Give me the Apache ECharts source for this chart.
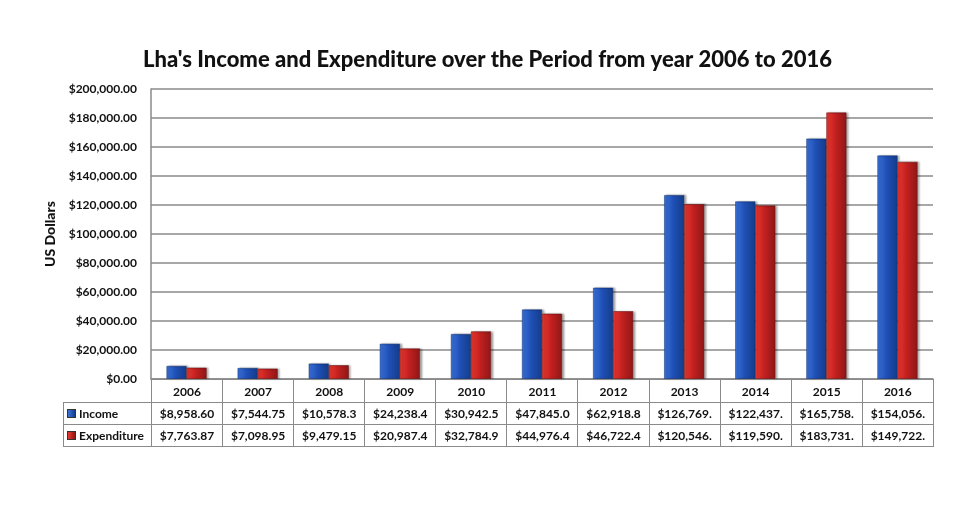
<!DOCTYPE html>
<html>
<head>
<meta charset="utf-8">
<script src="https://cdn.jsdelivr.net/npm/echarts@6/dist/echarts.min.js"></script>
<style>
  html, body { margin: 0; padding: 0; background: #fff; }
  #wrap { position: relative; width: 975px; height: 509px; }
  #chart { position: absolute; left: 0; top: 0; width: 975px; height: 509px; }
  #tbl {
    position: absolute; left: 63px; top: 379px;
    border-collapse: collapse; table-layout: fixed;
    font-family: Lato, 'Open Sans', sans-serif; font-weight: bold; font-size: 12px; color: #111;
  }
  #tbl td { border: 1.5px solid #8a8a8a; text-align: center; padding: 0; white-space: nowrap; overflow: hidden; }
  #tbl td.lab { text-align: left; padding-left: 3px; }
  #tbl td.blank { border: none; border-right: 1.5px solid #8a8a8a; }
  .key { display: inline-block; width: 7px; height: 7px; margin-right: 3px; vertical-align: 0px; border: 1px solid #333; }
</style>
</head>
<body>
<div id="wrap">
  <div id="chart"></div>
  <table id="tbl"></table>
</div>
<script>
  const years = ['2006', '2007', '2008', '2009', '2010', '2011', '2012', '2013', '2014', '2015', '2016']
  const income = [8958.60, 7544.75, 10578.30, 24238.40, 30942.50, 47845.00, 62918.80, 126769.00, 122437.00, 165758.00, 154056.00]
  const expenditure = [7763.87, 7098.95, 9479.15, 20987.40, 32784.90, 44976.40, 46722.40, 120546.00, 119590.00, 183731.00, 149722.00]
  const seriesNames = ['Income', 'Expenditure']

  const fmt = (v) => '$' + v.toLocaleString('en-US', { minimumFractionDigits: 2, maximumFractionDigits: 2 })

  const blue = new echarts.graphic.LinearGradient(0, 0, 1, 0, [
    { offset: 0, color: '#3d74dc' },
    { offset: 0.45, color: '#1f50b6' },
    { offset: 1, color: '#153c8a' },
  ])
  const red = new echarts.graphic.LinearGradient(0, 0, 1, 0, [
    { offset: 0, color: '#ea3a30' },
    { offset: 0.45, color: '#c42020' },
    { offset: 1, color: '#8e1717' },
  ])

  const chart = echarts.init(document.getElementById('chart'))
  chart.setOption({
    animation: false,
    title: {
      text: "Lha's Income and Expenditure over the Period from year 2006 to 2016",
      left: 'center',
      top: 44,
      textStyle: { fontFamily: 'Lato', fontWeight: 900, fontSize: 22, color: '#111' },
    },
    grid: { left: 151, right: 42, top: 89, bottom: 130 },
    xAxis: {
      type: 'category',
      data: years,
      axisLabel: { show: false },
      axisTick: { show: false },
      axisLine: { lineStyle: { color: '#8a8a8a', width: 1.5 } },
    },
    yAxis: {
      type: 'value',
      min: 0,
      max: 200000,
      interval: 20000,
      name: 'US Dollars',
      nameLocation: 'middle',
      nameGap: 90,
      nameTextStyle: { fontFamily: 'Lato', fontWeight: 900, fontSize: 14, color: '#111' },
      axisLine: { show: true, lineStyle: { color: '#8a8a8a', width: 1.5 } },
      axisTick: { show: false },
      splitLine: { lineStyle: { color: '#8a8a8a', width: 1.5 } },
      axisLabel: {
        formatter: fmt,
        margin: 14,
        fontFamily: 'Lato', fontWeight: 'bold', fontSize: 12, color: '#111',
      },
    },
    series: [
      {
        name: seriesNames[0], type: 'bar', data: income,
        barWidth: 20, barGap: '0%',
        itemStyle: { color: blue, borderColor: '#0f2f70', borderWidth: 0.5, shadowColor: 'rgba(0,0,0,0.35)', shadowOffsetX: 2, shadowBlur: 2 },
      },
      {
        name: seriesNames[1], type: 'bar', data: expenditure,
        barWidth: 20, barGap: '0%',
        itemStyle: { color: red, borderColor: '#6e1010', borderWidth: 0.5, shadowColor: 'rgba(0,0,0,0.35)', shadowOffsetX: 2, shadowBlur: 2 },
      },
    ],
  })

  // data table under the plot
  const colW = (975 - 151 - 42) / years.length
  const tbl = document.getElementById('tbl')
  let html = '<colgroup><col style="width:88px">' + years.map(() => `<col style="width:${colW}px">`).join('') + '</colgroup>'
  html += '<tr style="height:23px"><td class="blank"></td>' + years.map((y) => `<td>${y}</td>`).join('') + '</tr>'
  const rows = [
    [seriesNames[0], income, 'linear-gradient(90deg,#3d74dc,#153c8a)'],
    [seriesNames[1], expenditure, 'linear-gradient(90deg,#ea3a30,#8e1717)'],
  ]
  rows.forEach(([name, vals, bg]) => {
    html += `<tr style="height:22px"><td class="lab"><span class="key" style="background:${bg}"></span>${name}</td>`
    html += vals.map((v) => `<td>${fmt(v).slice(0, 9)}</td>`).join('') + '</tr>'
  })
  tbl.innerHTML = html
</script>
</body>
</html>
